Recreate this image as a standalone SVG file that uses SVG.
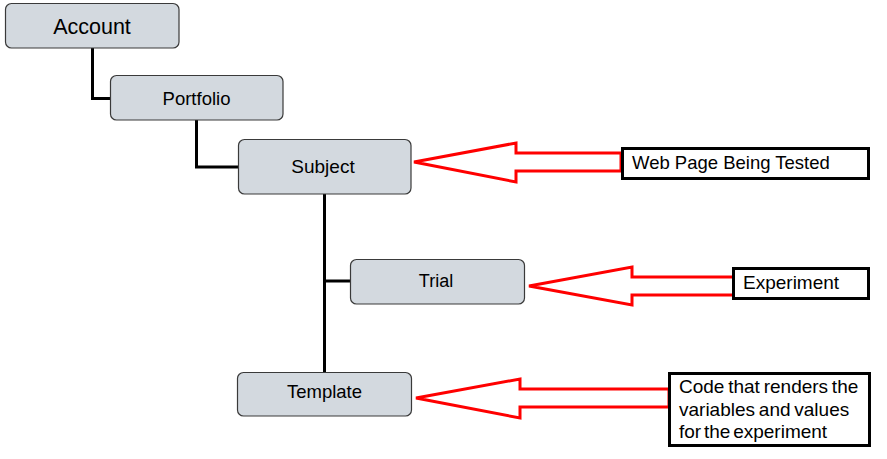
<svg xmlns="http://www.w3.org/2000/svg" width="887" height="459" viewBox="0 0 887 459">
<style>
.node rect{fill:#d3d9df;stroke:#3a3a3a;stroke-width:1.2}
text{font-family:"Liberation Sans",Arial,sans-serif;fill:#000}
.conn{fill:none;stroke:#000;stroke-width:3}
.arrow{fill:#fff;stroke:#ff0000;stroke-width:3;stroke-linejoin:miter}
.note rect{fill:#fff;stroke:#000;stroke-width:3}
</style>
<rect width="887" height="459" fill="#fff"/>
<g id="connectors">
<path class="conn" d="M92.5,48 V98.5 H110"/>
<path class="conn" d="M196.5,120 V167 H238"/>
<path class="conn" d="M324.5,194 V372"/>
<path class="conn" d="M324.5,281 H350"/>
<polygon class="arrow" points="414,162 516,143 516,153 621,153 621,171 516,171 516,182"/>
<polygon class="arrow" points="529,286 632,267 632,277 734,277 734,295 632,295 632,305"/>
<polygon class="arrow" points="416,398 520,379 520,389 669,389 669,407 520,407 520,418"/>
</g>
<g id="account" class="node"><rect x="5.5" y="3.5" width="173.5" height="44.5" rx="6"/><text x="92" y="34" font-size="21.5" text-anchor="middle">Account</text></g>
<g id="portfolio" class="node"><rect x="110.5" y="75.5" width="172.5" height="44.5" rx="6"/><text x="196.5" y="105" font-size="18.5" text-anchor="middle">Portfolio</text></g>
<g id="subject" class="node"><rect x="238.5" y="139.5" width="172.5" height="54.5" rx="6"/><text x="323" y="173" font-size="19" text-anchor="middle">Subject</text></g>
<g id="trial" class="node"><rect x="350.5" y="259.5" width="174" height="44.5" rx="6"/><text x="436" y="287" font-size="18" text-anchor="middle">Trial</text></g>
<g id="template" class="node"><rect x="237.5" y="372.5" width="174" height="43.5" rx="6"/><text x="324.5" y="398" font-size="18.5" text-anchor="middle">Template</text></g>
<g id="note-webpage" class="note"><rect x="622.5" y="148.5" width="246" height="30"/><text x="632" y="169" font-size="18.5">Web Page Being Tested</text></g>
<g id="note-experiment" class="note"><rect x="733.5" y="268.5" width="135" height="30"/><text x="743" y="289" font-size="19">Experiment</text></g>
<g id="note-code" class="note"><rect x="669.5" y="373.5" width="200" height="72"/>
<text x="679" y="393" font-size="19" word-spacing="-1.5">Code that renders the</text>
<text x="679" y="416" font-size="19" word-spacing="-1.5">variables and values</text>
<text x="679" y="438" font-size="19" word-spacing="-2.5">for the experiment</text>
</g>
</svg>
